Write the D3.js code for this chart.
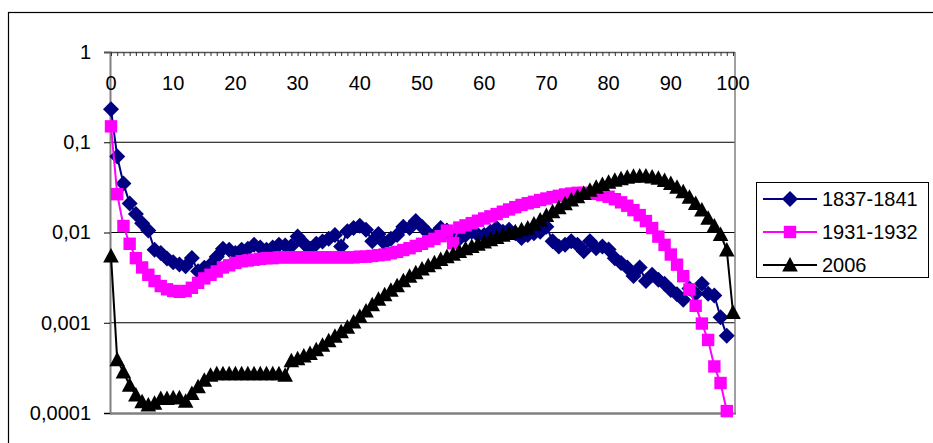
<!DOCTYPE html>
<html><head><meta charset="utf-8">
<script src="https://cdn.jsdelivr.net/npm/d3@7"></script>
<style>body{margin:0;background:#fff}svg{display:block}text{font-family:"Liberation Sans",Arial,sans-serif;font-size:20px;fill:#000}</style>
</head><body>
<svg id="c" width="933" height="443"></svg>
<script>
const ages = d3.range(0, 101);
const seriesNames = ["1837-1841", "1931-1932", "2006"];
const xTickLabels = [0,10,20,30,40,50,60,70,80,90,100];
const yTickValues = [1, 0.1, 0.01, 0.001, 0.0001];
const yTickLabels = ["1", "0,1", "0,01", "0,001", "0,0001"];

const v1837 = [0.232,0.0696,0.0348,0.021,0.016,0.0127,0.0105,0.00646,0.00593,0.00514,
0.00468,0.00441,0.00423,0.00522,0.00371,0.00407,0.0044,0.00537,0.0066,0.00645,
0.00593,0.00645,0.0066,0.0073,0.00684,0.00645,0.0068,0.0073,0.0072,0.0071,
0.00903,0.0076,0.0066,0.0075,0.00796,0.0085,0.0094,0.0070,0.0103,0.0112,
0.0119,0.0107,0.0080,0.0096,0.0076,0.0085,0.0094,0.0116,0.0112,0.0134,
0.0116,0.0098,0.0094,0.0112,0.0105,0.0087,0.0085,0.0094,0.0102,0.0094,
0.0094,0.0102,0.0112,0.0102,0.0107,0.0098,0.0087,0.0094,0.0098,0.0102,
0.0116,0.0080,0.0070,0.0073,0.0080,0.0073,0.0062,0.0080,0.0067,0.0070,
0.0065,0.0052,0.0046,0.0041,0.0033,0.0041,0.0029,0.0034,0.0030,0.0027,
0.0023,0.00207,0.0018,0.0024,0.0021,0.0027,0.0021,0.0020,0.00115,0.00072];

const v1931 = [0.150,0.0266,0.0118,0.0075,0.0052,0.0041,0.0034,0.0029,0.00255,0.00235,
0.00225,0.0022,0.00225,0.00244,0.00277,0.0031,0.0034,0.0037,0.0041,0.00433,
0.0046,0.0048,0.0049,0.0050,0.0051,0.0052,0.0052,0.0053,0.0053,0.0053,
0.0053,0.0053,0.0053,0.0053,0.0053,0.0053,0.0053,0.0053,0.0053,0.0053,
0.0054,0.0054,0.0055,0.0056,0.0057,0.0059,0.0061,0.0064,0.0067,0.0071,
0.0075,0.0080,0.0085,0.0091,0.0105,0.0076,0.01135,0.0120,0.0127,0.0135,
0.0143,0.0151,0.0160,0.0170,0.0180,0.0191,0.0202,0.0211,0.0219,0.0229,
0.0238,0.0247,0.0255,0.0264,0.0270,0.0275,0.0275,0.0273,0.0268,0.0260,
0.0249,0.0234,0.0216,0.0198,0.0177,0.0156,0.0134,0.0112,0.0090,0.0073,
0.0057,0.0044,0.00328,0.00234,0.00154,0.00098,0.000645,0.000328,0.000215,0.000105];

const v2006 = [0.0055,0.00039,0.000284,0.000203,0.000158,0.000133,0.000123,0.000128,0.000145,0.000145,
0.000148,0.000148,0.000135,0.000164,0.000195,0.000231,0.000262,0.000272,0.000272,0.000272,
0.000272,0.000272,0.000272,0.000272,0.000272,0.000272,0.000272,0.000272,0.000262,0.00038,
0.00040,0.000427,0.000457,0.000501,0.000562,0.000631,0.000708,0.000794,0.000891,0.00102,
0.00117,0.00135,0.00158,0.00182,0.00204,0.00229,0.00257,0.00292,0.00327,0.00359,
0.00394,0.00427,0.00462,0.00501,0.00537,0.00575,0.00617,0.00661,0.00700,0.00741,
0.00785,0.00832,0.00881,0.00933,0.00977,0.0102,0.0107,0.0112,0.0124,0.0138,
0.0154,0.0170,0.0188,0.0208,0.0229,0.0249,0.0270,0.0294,0.0318,0.0340,
0.0361,0.0379,0.0395,0.0409,0.0420,0.0423,0.0423,0.0412,0.0399,0.0376,
0.0348,0.0318,0.0282,0.0246,0.0210,0.0177,0.0144,0.0118,0.0095,0.0064,0.0013];

const series = [
  {name: seriesNames[0], values: v1837, color: "#000080", marker: "diamond"},
  {name: seriesNames[1], values: v1931, color: "#FF00FF", marker: "square"},
  {name: seriesNames[2], values: v2006, color: "#000000", marker: "triangle"}
];

const svg = d3.select("#c");
const x = d3.scaleLinear().domain([0, 100]).range([111, 733]);
const y = d3.scaleLog().domain([0.0001, 1]).range([413, 52]);
const pLeft = 110, pRight = 735, pTop = y(1), pBottom = y(0.0001);

// outer chart border
svg.append("rect").attr("x", 8.5).attr("y", 12.5).attr("width", 1000).attr("height", 1000)
  .attr("fill", "none").attr("stroke", "#000").attr("stroke-width", 1.2);

// gridlines
svg.append("g").selectAll("line").data([0.1, 0.01, 0.001]).join("line")
  .attr("x1", pLeft).attr("x2", pRight).attr("y1", d => y(d)).attr("y2", d => y(d))
  .attr("stroke", "#000").attr("stroke-width", 1);

// plot frame: right & bottom (gray)
svg.append("line").attr("x1", pRight).attr("x2", pRight).attr("y1", pTop).attr("y2", pBottom)
  .attr("stroke", "#808080").attr("stroke-width", 1.5);
svg.append("line").attr("x1", pLeft).attr("x2", pRight + 1).attr("y1", pBottom + 0.5).attr("y2", pBottom + 0.5)
  .attr("stroke", "#808080").attr("stroke-width", 2.5);

// y axis
const yAxis = d3.axisLeft(y).tickValues(yTickValues).tickSize(6).tickPadding(13)
  .tickFormat((d, i) => yTickLabels[i]);
const gy = svg.append("g").attr("transform", `translate(${pLeft},0)`).call(yAxis);
gy.select(".domain").attr("stroke", "#808080").attr("stroke-width", 2);
gy.selectAll(".tick line").attr("stroke", "#000");
gy.selectAll(".tick text").attr("font-size", 20).attr("fill", "#000")
  .attr("font-family", '"Liberation Sans", Arial, sans-serif');

// top x axis (at y = 1) with minor ticks every unit
const xAxis = d3.axisBottom(x).tickValues(ages).tickSize(4).tickFormat("");
const gx = svg.append("g").attr("transform", `translate(0,${pTop})`).call(xAxis);
gx.select(".domain").attr("d", `M${pLeft - 6},0.5H${pRight}`).attr("stroke", "#555").attr("stroke-width", 1.6);
gx.selectAll(".tick line").attr("stroke", "#333").attr("stroke-width", 1);
svg.append("g").selectAll("text").data(xTickLabels).join("text")
  .attr("x", d => x(d)).attr("y", pTop + 37.5).attr("text-anchor", "middle").text(d => d);

// series lines and markers
const line = d3.line().x((d, i) => x(ages[i])).y(d => y(d));
function markerPath(m) {
  if (m === "diamond") return "M0,-8L8,0L0,8L-8,0Z";
  if (m === "square") return "M-6.2,-6.2H6.2V6.2H-6.2Z";
  return "M0,-8L7.8,6.5L-7.8,6.5Z";
}
series.forEach(s => {
  const g = svg.append("g");
  g.append("path").datum(s.values).attr("d", line).attr("fill", "none")
    .attr("stroke", s.color).attr("stroke-width", 2);
  g.selectAll("path.m").data(s.values).join("path").attr("class", "m")
    .attr("transform", (d, i) => `translate(${x(ages[i])},${y(d)})`)
    .attr("d", markerPath(s.marker)).attr("fill", s.color);
});

// legend
const lg = svg.append("g");
lg.append("rect").attr("x", 756.5).attr("y", 182.5).attr("width", 172).attr("height", 95)
  .attr("fill", "#fff").attr("stroke", "#000").attr("stroke-width", 1);
series.forEach((s, i) => {
  const cy = 199 + i * 33;
  lg.append("line").attr("x1", 763).attr("x2", 817).attr("y1", cy).attr("y2", cy)
    .attr("stroke", s.color).attr("stroke-width", 2);
  lg.append("path").attr("transform", `translate(790,${cy})`).attr("d", markerPath(s.marker)).attr("fill", s.color);
  lg.append("text").attr("x", 822).attr("y", cy + 7).text(s.name);
});
</script>
</body></html>
